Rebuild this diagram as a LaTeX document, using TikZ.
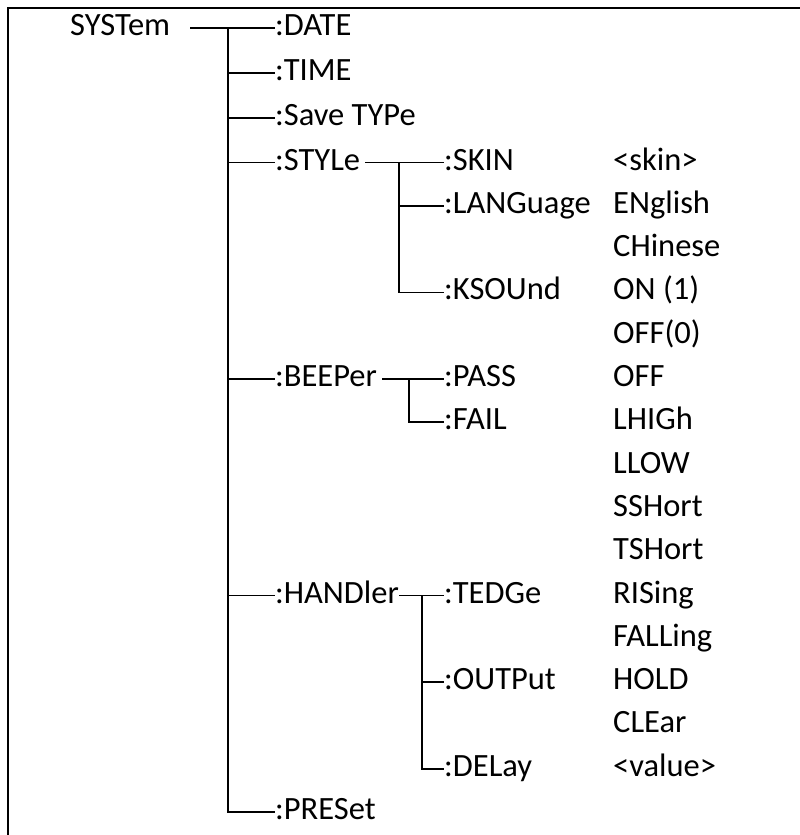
\documentclass[tikz,border=0pt]{standalone}
\usepackage{fontspec}
\setmainfont{Carlito}
\tikzset{
  cmd/.style={anchor=west, inner sep=0pt, text height=21pt, text depth=6pt,
    font=\fontsize{32.5}{37}\selectfont},
  tree/.style={line width=1.7pt},
}
\begin{document}
\begin{tikzpicture}[x=1pt,y=-1pt]
\useasboundingbox (0,0) rectangle (800,835);
\draw[line width=2.4pt] (8,870) -- (8,8) -- (830,8);
% root and first level
\node[cmd] (sys) at (70,28) {SYSTem};
\node[cmd] (date) at (275,28) {:DATE};
\node[cmd] (time) at (275,73) {:TIME};
\node[cmd] (save) at (275,118) {:Save TYPe};
\node[cmd] (style) at (275,162.5) {:STYLe};
\node[cmd] (beeper) at (275,379) {:BEEPer};
\node[cmd] (handler) at (275,595.5) {:HANDler};
\node[cmd] (preset) at (275,812) {:PRESet};
% second level
\node[cmd] (skin) at (444,162.5) {:SKIN};
\node[cmd] (language) at (444,205.8) {:LANGuage};
\node[cmd] (ksound) at (444,292.4) {:KSOUnd};
\node[cmd] (pass) at (444,379) {:PASS};
\node[cmd] (fail) at (444,422.3) {:FAIL};
\node[cmd] (tedge) at (444,595.5) {:TEDGe};
\node[cmd] (output) at (444,682.1) {:OUTPut};
\node[cmd] (delay) at (444,768.7) {:DELay};
% parameter values
\node[cmd] (vskin) at (613,162.5) {<skin>};
\node[cmd] (veng) at (613,205.8) {ENglish};
\node[cmd] (vchi) at (613,249.1) {CHinese};
\node[cmd] (von) at (613,292.4) {ON (1)};
\node[cmd] (voff) at (613,335.7) {OFF(0)};
\node[cmd] (vboff) at (613,379) {OFF};
\node[cmd] (vlhigh) at (613,422.3) {LHIGh};
\node[cmd] (vllow) at (613,465.6) {LLOW};
\node[cmd] (vsshort) at (613,508.9) {SSHort};
\node[cmd] (vtshort) at (613,552.2) {TSHort};
\node[cmd] (vrise) at (613,595.5) {RISing};
\node[cmd] (vfall) at (613,638.8) {FALLing};
\node[cmd] (vhold) at (613,682.1) {HOLD};
\node[cmd] (vclear) at (613,725.4) {CLEar};
\node[cmd] (vvalue) at (613,768.7) {<value>};
% tree lines
\coordinate (trunk) at (228,0);
\coordinate (stylebus) at (399,0);
\coordinate (beepbus) at (409,0);
\coordinate (handbus) at (422,0);
\draw[tree] ([xshift=20pt]sys.east) -- (date.west);
\draw[tree] (trunk |- date.west) |- (preset.west);
\foreach \n in {time,save,style,beeper,handler}
  \draw[tree] (trunk |- \n.west) -- (\n.west);
\draw[tree] ([xshift=5pt]style.east) -- (skin.west);
\draw[tree] (stylebus |- skin.west) |- (ksound.west);
\draw[tree] (stylebus |- language.west) -- (language.west);
\draw[tree] ([xshift=5pt]beeper.east) -- (pass.west);
\draw[tree] (beepbus |- pass.west) |- (fail.west);
\draw[tree] (handler.east) -- (tedge.west);
\draw[tree] (handbus |- tedge.west) |- (delay.west);
\draw[tree] (handbus |- output.west) -- (output.west);
\end{tikzpicture}
\end{document}
